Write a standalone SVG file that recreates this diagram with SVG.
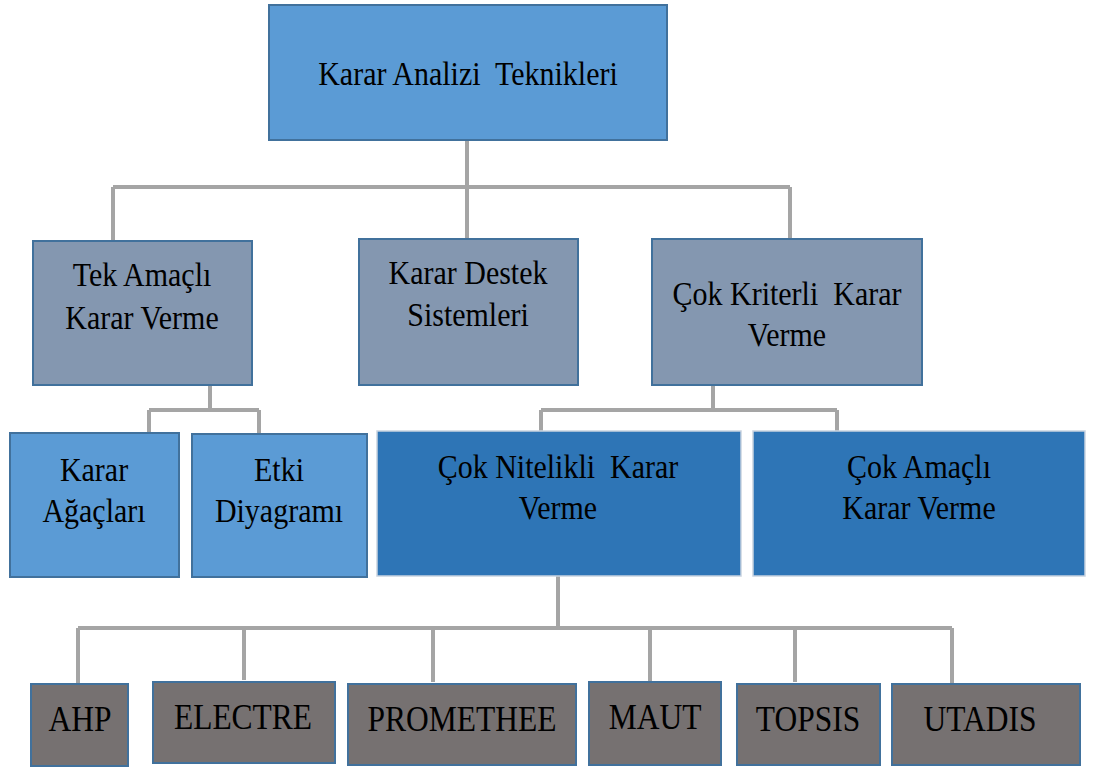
<svg xmlns="http://www.w3.org/2000/svg" width="1100" height="770" viewBox="0 0 1100 770">
<style>
.c{stroke:#a5a5a5;stroke-width:4;fill:none}
.n{stroke:#41719c;stroke-width:2}
.top{fill:#5b9bd5}
.l2{fill:#8497b0}
.l3a{fill:#5b9bd5}
.l3b{fill:#2e75b6;stroke:#c9d3e0;stroke-width:1.5}
.l4{fill:#767171}
text{font-family:"Liberation Serif","Times New Roman",serif;font-size:30px;fill:#000;text-anchor:middle;white-space:pre}
.b text{font-size:31.5px}
</style>
<rect width="1100" height="770" fill="#fff"/>
<g id="connectors">
<path class="c" d="M467,140V238M113,187H790M113,187V241M790,187V240"/>
<path class="c" d="M210,385V410M149,410H259M149,410V433M259,410V435"/>
<path class="c" d="M713,385V410M541,410H837M541,410V431M837,410V431"/>
<path class="c" d="M558,576V628M78,628H952M78,628V684M244,628V680M433,628V682M650,628V683M795,628V682M952,628V684"/>
</g>
<g id="n-root"><rect class="n top" x="269" y="5" width="398" height="135"/><text transform="translate(468 85) scale(1 1.15)" xml:space="preserve">Karar Analizi  Teknikleri</text></g>
<g id="n-tek"><rect class="n l2" x="33" y="241" width="219" height="144"/><text transform="translate(142 286) scale(1 1.15)">Tek Amaçlı</text><text transform="translate(142 329) scale(1 1.15)">Karar Verme</text></g>
<g id="n-kds"><rect class="n l2" x="359" y="239" width="219" height="146"/><text transform="translate(468 284) scale(1 1.15)">Karar Destek</text><text transform="translate(468 326) scale(1 1.15)">Sistemleri</text></g>
<g id="n-ckkv"><rect class="n l2" x="652" y="239" width="270" height="146"/><text transform="translate(787 305) scale(1 1.15)" xml:space="preserve">Çok Kriterli  Karar</text><text transform="translate(787 346) scale(1 1.15)">Verme</text></g>
<g id="n-agac"><rect class="n l3a" x="10" y="433" width="169" height="144"/><text transform="translate(94 481) scale(1 1.15)">Karar</text><text transform="translate(94 522) scale(1 1.15)">Ağaçları</text></g>
<g id="n-etki"><rect class="n l3a" x="192" y="434" width="175" height="143"/><text transform="translate(279 481) scale(1 1.15)">Etki</text><text transform="translate(279 522) scale(1 1.15)">Diyagramı</text></g>
<g id="n-cnkv"><rect class="l3b" x="377" y="431" width="364" height="145"/><text transform="translate(558 478) scale(1 1.15)" xml:space="preserve">Çok Nitelikli  Karar</text><text transform="translate(558 519) scale(1 1.15)">Verme</text></g>
<g id="n-cakv"><rect class="l3b" x="753" y="431" width="332" height="145"/><text transform="translate(919 478) scale(1 1.15)">Çok Amaçlı</text><text transform="translate(919 519) scale(1 1.15)">Karar Verme</text></g>
<g class="b">
<g id="n-ahp"><rect class="n l4" x="31" y="684" width="97" height="82"/><text transform="translate(80 731) scale(1 1.12)">AHP</text></g>
<g id="n-electre"><rect class="n l4" x="153" y="682" width="182" height="81"/><text transform="translate(243 729) scale(1 1.12)">ELECTRE</text></g>
<g id="n-promethee"><rect class="n l4" x="348" y="684" width="228" height="81"/><text transform="translate(462 731) scale(1 1.12)">PROMETHEE</text></g>
<g id="n-maut"><rect class="n l4" x="589" y="682" width="132" height="83"/><text transform="translate(655 729) scale(1 1.12)">MAUT</text></g>
<g id="n-topsis"><rect class="n l4" x="737" y="684" width="143" height="81"/><text transform="translate(808 731) scale(1 1.12)">TOPSIS</text></g>
<g id="n-utadis"><rect class="n l4" x="892" y="684" width="188" height="81"/><text transform="translate(980 731) scale(1 1.12)">UTADIS</text></g>
</g>
</svg>
